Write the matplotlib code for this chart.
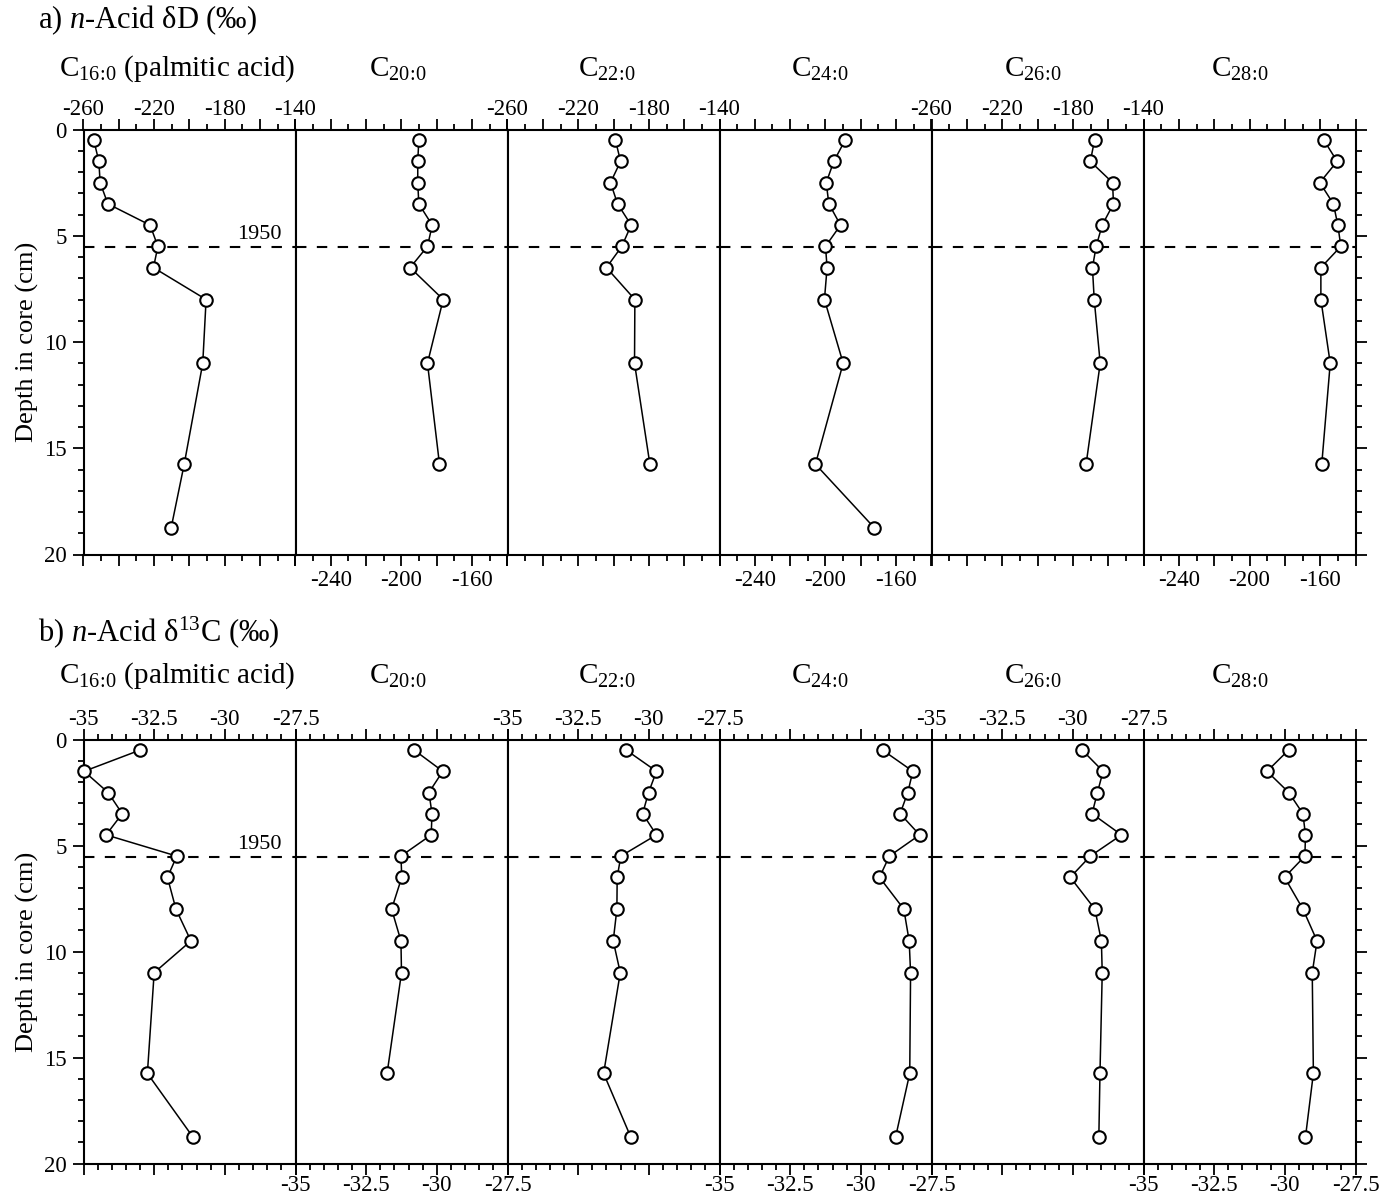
import numpy as np
import matplotlib
matplotlib.use("Agg")
import matplotlib.pyplot as plt
from matplotlib.ticker import MultipleLocator, FuncFormatter

plt.rcParams['font.family'] = ['Liberation Serif', 'DejaVu Serif']
plt.rcParams['mathtext.fontset'] = 'custom'
plt.rcParams['mathtext.rm'] = 'Liberation Serif'
plt.rcParams['mathtext.it'] = 'Liberation Serif:italic'
plt.rcParams['mathtext.bf'] = 'Liberation Serif:bold'
plt.rcParams['axes.unicode_minus'] = False

# ---------------- data ----------------
compounds = [r"C$_{16\!:\!0}$ (palmitic acid)", r"C$_{20\!:\!0}$", r"C$_{22\!:\!0}$",
             r"C$_{24\!:\!0}$", r"C$_{26\!:\!0}$", r"C$_{28\!:\!0}$"]

depth_dD = [0.5, 1.5, 2.5, 3.5, 4.5, 5.5, 6.5, 8.0, 11.0, 15.75, 18.75]
dD_C16 = [-254.2, -251.3, -250.6, -246.2, -222.3, -217.9, -220.4, -190.6, -192.5, -203.0, -210.4]
dD_C20 = [-190.2, -190.8, -190.8, -190.2, -182.6, -185.3, -195.1, -176.4, -185.3, -178.5]
dD_C22 = [-198.9, -196.0, -201.7, -197.7, -190.0, -195.3, -204.0, -187.9, -188.1, -179.4]
dD_C24 = [-188.9, -195.3, -199.6, -198.1, -191.5, -200.0, -199.1, -200.6, -190.0, -205.7, -172.3]
dD_C26 = [-167.7, -170.1, -157.5, -157.0, -163.4, -166.8, -168.9, -167.9, -164.5, -172.5]
dD_C28 = [-157.9, -150.4, -160.2, -152.5, -150.0, -148.3, -159.6, -159.6, -154.3, -159.1]

depth_d13C = [0.5, 1.5, 2.5, 3.5, 4.5, 5.5, 6.5, 8.0, 9.5, 11.0, 15.75, 18.75]
d13C_C16 = [-33.00, -34.98, -34.13, -33.63, -34.20, -31.70, -32.03, -31.73, -31.20, -32.50, -32.74, -31.13]
d13C_C20 = [-30.80, -29.79, -30.28, -30.17, -30.20, -31.27, -31.24, -31.60, -31.27, -31.25, -31.76]
d13C_C22 = [-30.80, -29.73, -30.01, -30.22, -29.73, -30.99, -31.12, -31.13, -31.26, -31.01, -31.60, -30.64]
d13C_C24 = [-29.23, -28.16, -28.34, -28.61, -27.92, -28.99, -29.34, -28.48, -28.29, -28.24, -28.27, -28.77]
d13C_C26 = [-29.67, -28.93, -29.13, -29.32, -28.28, -29.38, -30.09, -29.22, -28.99, -28.96, -29.04, -29.08]
d13C_C28 = [-29.87, -30.63, -29.86, -29.36, -29.27, -29.29, -30.01, -29.36, -28.86, -29.03, -28.99, -29.27]

dD_series = [dD_C16, dD_C20, dD_C22, dD_C24, dD_C26, dD_C28]
d13C_series = [d13C_C16, d13C_C20, d13C_C22, d13C_C24, d13C_C26, d13C_C28]

dD_top_labels = [-260, -220, -180, -140]
dD_bottom_labels = [-240, -200, -160]
d13C_labels = [-35, -32.5, -30, -27.5]
year_depth = 5.55

# ---------------- layout ----------------
W, H = 1385, 1197
fig = plt.figure(figsize=(W / 100, H / 100), dpi=100)


def rect(x0, y0, x1, y1):
    return [x0 / W, 1 - y1 / H, (x1 - x0) / W, (y1 - y0) / H]


def fmt_factory(labels):
    def f(v, pos):
        for l in labels:
            if abs(v - l) < 1e-6:
                return f"{l:g}"
        return ""
    return FuncFormatter(f)


PW = 212.0
X0 = 83.5
TICK_FS = 16.5


def make_row(y0, y1, series, depths, xlim, major, minor, top_labels_fn, bottom_labels_fn,
             bottom_pad):
    axes = []
    for i in range(6):
        ax = fig.add_axes(rect(X0 + PW * i, y0, X0 + PW * (i + 1), y1))
        vals = series[i]
        d = depths[:len(vals)]
        ax.plot(vals, d, color='black', lw=1.1, marker='o', ms=9, mfc='white',
                mec='black', mew=1.5, zorder=3, clip_on=False)
        ax.axhline(year_depth, color='black', lw=1.5, dashes=(5, 5), zorder=2)
        ax.set_xlim(*xlim)
        ax.set_ylim(20, 0)
        ax.xaxis.set_major_locator(MultipleLocator(major))
        ax.xaxis.set_minor_locator(MultipleLocator(minor))
        ax.tick_params(axis='x', which='both', top=True, bottom=True, direction='out',
                       labelsize=TICK_FS, width=1.3)
        ax.tick_params(axis='x', which='minor', length=4)
        tl, bl = top_labels_fn(i), bottom_labels_fn(i)
        if tl:
            ax.tick_params(axis='x', which='major', length=8, pad=-1.5,
                           labeltop=True, labelbottom=False)
            ax.xaxis.set_major_formatter(fmt_factory(tl))
        else:
            ax.tick_params(axis='x', which='major', length=8, pad=bottom_pad,
                           labeltop=False, labelbottom=True)
            ax.xaxis.set_major_formatter(fmt_factory(bl))
        ax.yaxis.set_major_locator(MultipleLocator(5))
        ax.yaxis.set_minor_locator(MultipleLocator(1))
        ax.tick_params(axis='y', which='both', direction='out', width=1.3,
                       labelsize=TICK_FS, left=(i == 0), right=(i == 5),
                       labelleft=(i == 0), labelright=False)
        ax.tick_params(axis='y', which='major', length=8, pad=4)
        ax.tick_params(axis='y', which='minor', length=4)
        ax.yaxis.set_major_formatter(FuncFormatter(lambda v, p: f"{v:g}"))
        for s in ax.spines.values():
            s.set_linewidth(1.5)
        axes.append(ax)
    return axes


top_axes = make_row(129.5, 554.5, dD_series, depth_dD, (-260, -140), 20, 10,
                    lambda i: dD_top_labels if i % 2 == 0 else None,
                    lambda i: dD_bottom_labels, 3.5)
bot_axes = make_row(739.5, 1163.5, d13C_series, depth_d13C, (-35, -27.5), 2.5, 0.5,
                    lambda i: d13C_labels if i % 2 == 0 else None,
                    lambda i: d13C_labels, 0.5)

for ax in (top_axes[0], bot_axes[0]):
    ax.set_ylabel("Depth in core (cm)", fontsize=19, labelpad=4)
    ax.text(0.935, year_depth - 0.4, "1950", transform=ax.get_yaxis_transform(),
            ha='right', va='baseline', fontsize=16)

TITLE_FS = 21
fig.text(38 / W, 1 - 20 / H, "a) $n$-Acid δD (‰)", fontsize=22, ha='left', va='center')
fig.text(38 / W, 1 - 632 / H, "b) $n$-Acid δ$^{13}$C (‰)", fontsize=22, ha='left', va='center')

centers = [177, 398, 607, 820, 1033, 1240]
for i, c in enumerate(compounds):
    fig.text(centers[i] / W, 1 - 69 / H, c, fontsize=TITLE_FS, ha='center', va='center')
    fig.text(centers[i] / W, 1 - 676 / H, c, fontsize=TITLE_FS, ha='center', va='center')

fig.savefig("out.png", dpi=100)
